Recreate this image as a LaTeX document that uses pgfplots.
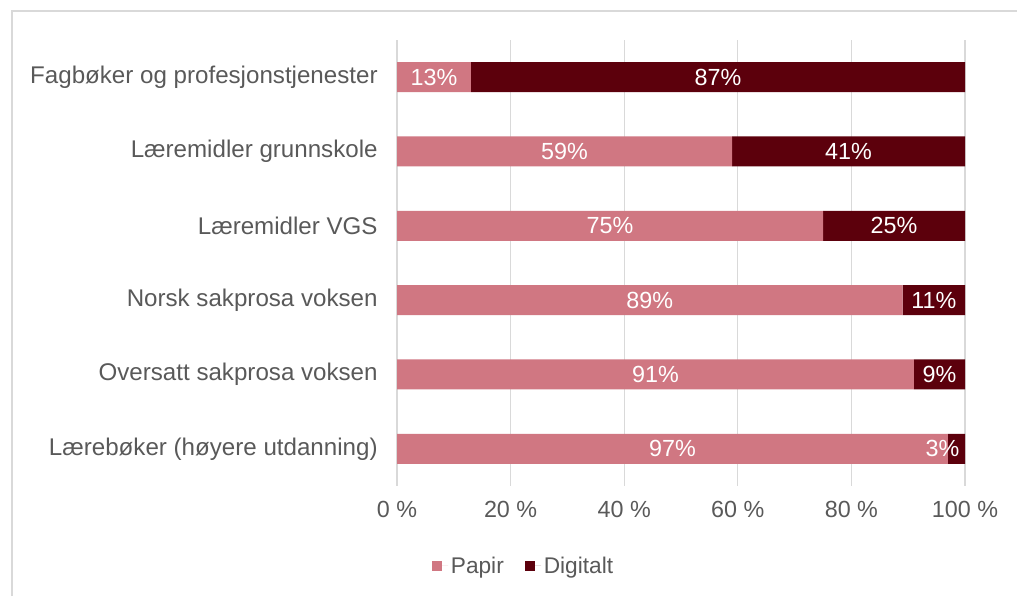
\documentclass[border=0pt]{standalone}
\usepackage{pgfplots}
\pgfplotsset{compat=1.18}
\usepackage{fontspec}
\setmainfont{Liberation Sans}
\definecolor{papir}{HTML}{D07782}
\definecolor{digitalt}{HTML}{5C000C}
\definecolor{gridgray}{HTML}{D9D9D9}
\definecolor{textgray}{HTML}{595959}

\begin{document}
\begin{tikzpicture}
\path[use as bounding box] (0,0) rectangle (762.75pt,447pt);
\draw[gridgray, line width=1pt] (9pt,0) -- (9pt,438.75pt) -- (762.75pt,438.75pt);
\begin{axis}[
    at={(297.75pt,82.5pt)}, anchor=south west,
    scale only axis,
    width=426pt, height=334.5pt,
    xbar stacked,
    bar width=22.5pt,
    xmin=0, xmax=100,
    ymin=-0.5, ymax=5.5,
    ytick={0,...,5},
    yticklabels={Lærebøker (høyere utdanning), Oversatt sakprosa voksen, Norsk sakprosa voksen, Læremidler VGS, Læremidler grunnskole, Fagbøker og profesjonstjenester},
    xtick={0,20,40,60,80,100},
    xticklabels={0 \%, 20 \%, 40 \%, 60 \%, 80 \%, 100 \%},
    axis line style={draw=none},
    tick style={draw=none},
    xmajorgrids,
    grid style={gridgray, line width=1pt},
    tick label style={text=textgray},
    xticklabel style={yshift=-8pt, font=\fontsize{17.5}{21}\selectfont},
    yticklabel style={xshift=-11pt, font=\fontsize{18.1}{21}\selectfont},
    /pgf/number format/assume math mode=true,
    legend style={at={(0.2236,-0.179)}, anchor=center, draw=none, legend columns=2,
        font=\fontsize{17}{20}\selectfont, text=textgray,
        /tikz/every even column/.append style={column sep=14pt}},
    legend image code/.code={\fill[#1] (0pt,-3.75pt) rectangle (7.5pt,3.75pt); \path (7.5pt,0) -- (12pt,0);},
    visualization depends on=rawx \as \rawx,
    nodes near coords={\pgfmathprintnumber{\rawx}\%},
    % small segments: keep the label inside the chart, as Excel does
    every node near coord/.append style={anchor=center, text=white,
        font=\fontsize{17.5}{21}\selectfont, xshift={min(0,\rawx-6.5)*3pt}},
]
\addplot[fill=papir, draw=none] coordinates {(97,0) (91,1) (89,2) (75,3) (59,4) (13,5)};
\addplot[fill=digitalt, draw=none] coordinates {(3,0) (9,1) (11,2) (25,3) (41,4) (87,5)};
\legend{Papir, Digitalt}
\end{axis}
\end{tikzpicture}
\end{document}
